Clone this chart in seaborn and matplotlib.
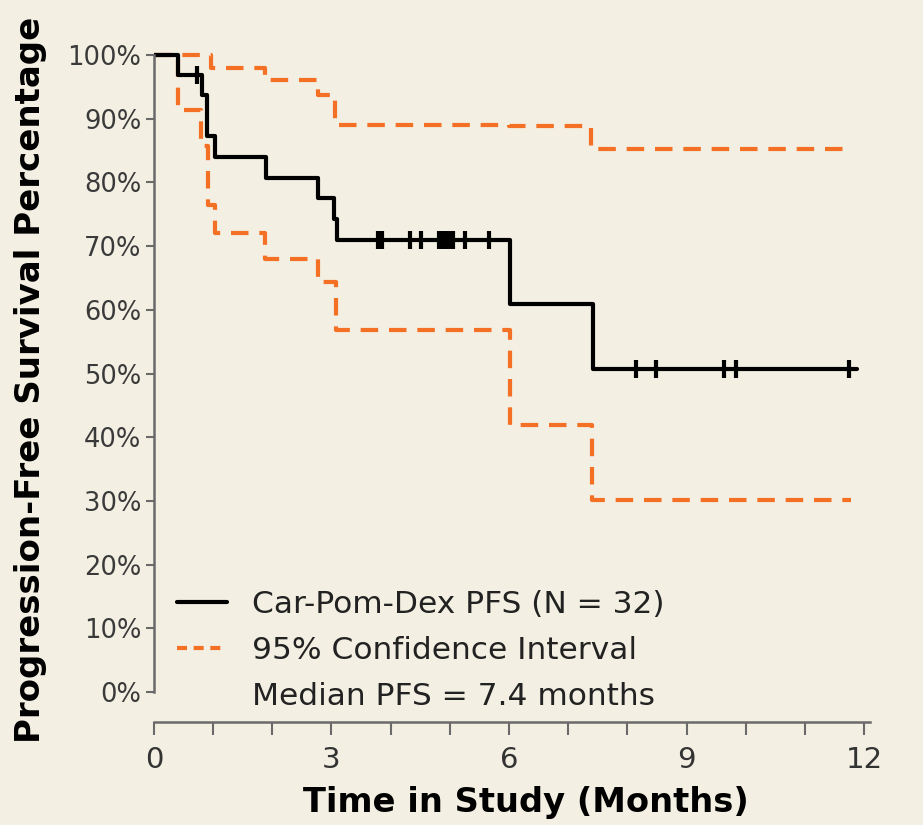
import numpy as np
import pandas as pd
import seaborn as sns
import matplotlib.pyplot as plt
from matplotlib.lines import Line2D

# Kaplan-Meier estimate
km_time = [0, 0.41, 0.81, 0.89, 1.03, 1.89, 2.78, 3.05, 3.10, 6.01, 7.42, 11.88]
km_surv = [100, 96.9, 93.65, 87.2, 84.0, 80.7, 77.5, 74.3, 71.0, 60.9, 50.7, 50.7]

# 95% confidence bounds
upper_time = [0, 0.97, 1.87, 2.77, 3.06, 6.00, 7.39, 11.78]
upper_surv = [100, 98.0, 96.0, 93.7, 89.0, 88.8, 85.3, 85.3]
lower_time = [0, 0.41, 0.80, 0.92, 1.03, 1.87, 2.77, 3.08, 6.01, 7.41, 11.78]
lower_surv = [100, 91.4, 85.7, 76.5, 72.1, 68.0, 64.3, 56.8, 41.9, 30.1, 30.1]

# censored observations
cens_time = [0.73, 3.79, 3.86, 4.33, 4.51, 4.82, 4.88, 4.93, 5.00, 5.06, 5.25, 5.66,
             8.15, 8.48, 9.63, 9.83, 11.74]
cens_surv = [96.9] + [71.0] * 11 + [50.7] * 5

bg = '#f3efe2'
orange = '#f37025'
sns.set_style('ticks')
plt.rcParams['font.family'] = ['DejaVu Sans']

fig = plt.figure(figsize=(9.23, 8.25), dpi=100, facecolor=bg)
ax = fig.add_axes([0.1668, 0.1248, 0.7758, 0.8202])
ax.set_facecolor(bg)

dash = dict(color=orange, linewidth=3, dashes=(4.2, 2.6), drawstyle='steps-post')
sns.lineplot(x=upper_time, y=upper_surv, ax=ax, estimator=None, sort=False, **dash)
sns.lineplot(x=lower_time, y=lower_surv, ax=ax, estimator=None, sort=False, **dash)
sns.lineplot(x=km_time, y=km_surv, ax=ax, estimator=None, sort=False,
             color='black', linewidth=3, drawstyle='steps-post')
sns.scatterplot(x=cens_time, y=cens_surv, ax=ax, marker='|', s=170,
                linewidth=3, color='black', zorder=5)

ax.set_xlim(0, 12.1)
ax.set_ylim(-4.7, 101.5)
ax.set_xticks([0, 3, 6, 9, 12])
ax.set_xticks(range(0, 13), minor=True)
ax.set_yticks(range(0, 101, 10))
ax.set_yticklabels([f'{v}%' for v in range(0, 101, 10)])

for s in ['top', 'right']:
    ax.spines[s].set_visible(False)
for s in ['left', 'bottom']:
    ax.spines[s].set_color('#6a6a6a')
    ax.spines[s].set_linewidth(1.8)
ax.spines['left'].set_bounds(0, 100)

ax.tick_params(axis='y', length=6, width=1.5, color='#6a6a6a', labelsize=18.5,
               labelcolor='#3a3a3a', pad=3)
ax.tick_params(axis='x', which='both', length=9, width=1.5, color='#6a6a6a',
               labelsize=21, labelcolor='#333333', pad=8)

ax.set_xlabel('Time in Study (Months)', fontsize=24.3, fontweight='bold',
              color='black')
ax.xaxis.set_label_coords(0.519, -0.094)
ax.set_ylabel('Progression-Free Survival Percentage', fontsize=24.5,
              fontweight='bold', color='black')
ax.yaxis.set_label_coords(-0.150, 0.505)

handles = [Line2D([], [], color='black', linewidth=3),
           Line2D([], [], color=orange, linewidth=3, dashes=(2.4, 1.6)),
           Line2D([], [], color='none')]
labels = ['Car-Pom-Dex PFS (N = 32)', '95% Confidence Interval',
          'Median PFS = 7.4 months']
leg = ax.legend(handles, labels, loc='lower left', bbox_to_anchor=(0.032, 0.016),
                frameon=False, fontsize=22.5, handlelength=1.6, handletextpad=0.8,
                labelspacing=0.55, borderpad=0, borderaxespad=0)
for t in leg.get_texts():
    t.set_color('#222222')

fig.savefig('out.png', dpi=100, facecolor=bg)
